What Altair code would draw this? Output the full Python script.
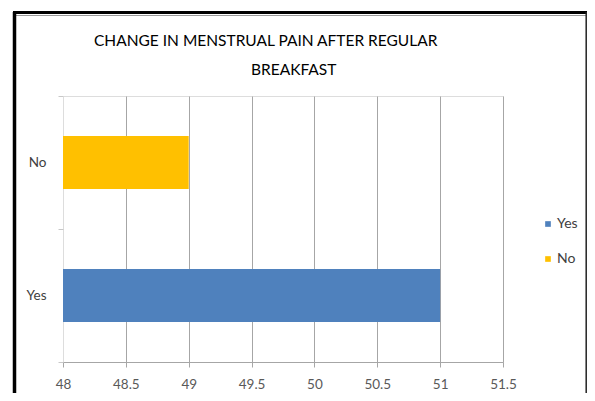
import altair as alt
import pandas as pd

categories = ["Yes", "No"]
values = [51, 49]
x_ticks = [48, 48.5, 49, 49.5, 50, 50.5, 51, 51.5]
title_line1 = "CHANGE IN MENSTRUAL PAIN AFTER REGULAR"
title_line2 = "BREAKFAST"
colors = ["#4F81BD", "#FFC000"]

FONT = "Lato"
df = pd.DataFrame({"answer": categories, "value": values})

bars = alt.Chart(df).mark_bar(height=53).encode(
    y=alt.Y("answer:N", sort=["No", "Yes"], title=None,
            scale=alt.Scale(paddingInner=0, paddingOuter=0),
            axis=alt.Axis(domain=False, tickBand="extent", tickSize=5,
                          tickColor="#c8c8c8", labelFontSize=13.5,
                          labelColor="#404040", labelPadding=12,
                          labelFont=FONT)),
    x=alt.X("value:Q", title=None,
            scale=alt.Scale(domain=[48, 51.5], zero=False, nice=False),
            axis=alt.Axis(values=x_ticks, format="~g", domainColor="#a6a6a6",
                          tickColor="#a6a6a6", tickSize=5, labelFontSize=13.5,
                          labelColor="#595959", labelPadding=10, labelFont=FONT,
                          labelFlush=False,
                          gridColor={"condition": {"test": "datum.value === 48", "value": "transparent"},
                                     "value": "#a6a6a6"})),
    x2=alt.datum(48),
    color=alt.Color("answer:N", scale=alt.Scale(domain=categories, range=colors),
                    legend=alt.Legend(title=None, orient="none", legendX=478, legendY=121,
                                      symbolType="square", symbolSize=32,
                                      symbolStrokeWidth=0, labelFontSize=14,
                                      labelColor="#404040", labelFont=FONT,
                                      rowPadding=21, labelOffset=2)),
)

title1 = alt.Chart(pd.DataFrame({"t": [title_line1]})).mark_text(
    align="left", baseline="alphabetic", fontSize=15.5, font=FONT, color="#000000"
).encode(text="t:N", x=alt.value(31), y=alt.value(-50))

title2 = alt.Chart(pd.DataFrame({"t": [title_line2]})).mark_text(
    align="left", baseline="alphabetic", fontSize=15.5, font=FONT, color="#000000"
).encode(text="t:N", x=alt.value(188), y=alt.value(-21))

top_border = alt.Chart().mark_rule(color="#000000", strokeWidth=3).encode(
    x=alt.value(-50), x2=alt.value(524), y=alt.value(-83.5))
inner_border = alt.Chart().mark_rule(color="#999999", strokeWidth=1).encode(
    x=alt.value(-47), x2=alt.value(523), y=alt.value(-80.5))
left_border = alt.Chart().mark_rule(color="#000000", strokeWidth=3.5).encode(
    x=alt.value(-48.5), y=alt.value(-84), y2=alt.value(300))
right_border = alt.Chart().mark_rule(color="#222222", strokeWidth=1.5).encode(
    x=alt.value(523.2), y=alt.value(-84), y2=alt.value(300))

chart = alt.layer(bars, title1, title2, top_border, inner_border, left_border, right_border).properties(
    width=440, height=266,
    autosize=alt.AutoSizeParams(type="none"),
    padding={"left": 55, "top": 88, "right": 84, "bottom": 31},
).configure_view(stroke=None).configure(background="white")

chart.save("out.html", embed_options={"renderer": "svg", "actions": False})
